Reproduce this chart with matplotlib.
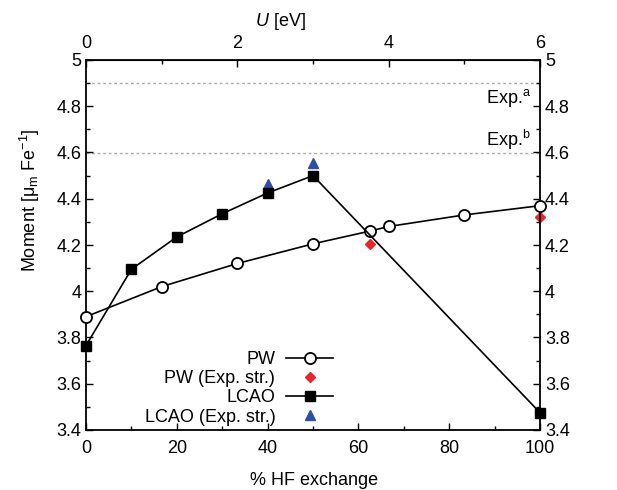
import matplotlib
matplotlib.use("Agg")
import matplotlib.pyplot as plt
from matplotlib.ticker import MultipleLocator, FixedLocator

plt.rcParams['font.family'] = ['Liberation Sans', 'DejaVu Sans']
plt.rcParams['mathtext.fontset'] = 'custom'
plt.rcParams['mathtext.rm'] = 'Liberation Sans'
plt.rcParams['mathtext.it'] = 'Liberation Sans:italic'

# PW data (x in U [eV])
pw_u = [0, 1, 2, 3, 3.75, 4, 5, 6]
pw_m = [3.89, 4.02, 4.12, 4.205, 4.26, 4.28, 4.33, 4.37]
# PW experimental structure (x in U [eV])
pwexp_u = [3.75, 6]
pwexp_m = [4.205, 4.32]
# LCAO data (x in % HF)
lcao_hf = [0, 10, 20, 30, 40, 50, 100]
lcao_m = [3.765, 4.095, 4.235, 4.335, 4.425, 4.50, 3.475]
# LCAO experimental structure
lcaoexp_hf = [40, 50]
lcaoexp_m = [4.462, 4.555]
# experimental references
exp_vals = [4.9, 4.6]
exp_labels = ['Exp.$^{\\mathrm{a}}$', 'Exp.$^{\\mathrm{b}}$']
u_ticks = [0, 2, 4, 6]
u_minor = [1, 3, 5]

U_MAX = 6.0

def u2hf(u):
    return [v * 100.0 / U_MAX for v in u]

fig = plt.figure(figsize=(6.17, 4.9), dpi=100)
ax = fig.add_axes([86/617, 1 - 430/490, (540-86)/617, (430-60)/490])

fs = 13
for y in exp_vals:
    ax.axhline(y, color='#aaaaaa', lw=1.0, ls=(0, (2, 2)), zorder=1)
ax.text(98, 4.835, exp_labels[0], ha='right', va='center', fontsize=fs)
ax.text(98, 4.655, exp_labels[1], ha='right', va='center', fontsize=fs)

ax.plot(u2hf(pw_u), pw_m, '-', color='black', lw=1.2, marker='o', ms=8,
        mfc='white', mec='black', mew=1.3, label='PW', zorder=3, clip_on=False)
ax.plot(u2hf(pwexp_u), pwexp_m, ls='none', marker='D', ms=5.5, color='#e8262b',
        label='PW (Exp. str.)', zorder=2, clip_on=False)
ax.plot(lcao_hf, lcao_m, '-', color='black', lw=1.2, marker='s', ms=7.5,
        mfc='black', mec='black', label='LCAO', zorder=3, clip_on=False)
ax.plot(lcaoexp_hf, lcaoexp_m, ls='none', marker='^', ms=7, color='#2f4fa2',
        label='LCAO (Exp. str.)', zorder=2, clip_on=False)

ax.set_xlim(0, 100)
ax.set_ylim(3.4, 5.0)
ax.xaxis.set_major_locator(MultipleLocator(20))
ax.xaxis.set_minor_locator(MultipleLocator(10))
ax.yaxis.set_major_locator(MultipleLocator(0.2))
ax.yaxis.set_minor_locator(MultipleLocator(0.1))
ax.yaxis.set_major_formatter(plt.FuncFormatter(lambda v, p: f"{v:.1f}".rstrip('0').rstrip('.')))
ax.tick_params(which='both', direction='in', labelsize=fs, right=True, labelright=True)
ax.tick_params(which='major', length=5, width=1)
ax.tick_params(which='minor', length=3, width=1)
ax.tick_params(axis='x', pad=7)
for s in ax.spines.values():
    s.set_linewidth(1.3)

sec = ax.secondary_xaxis('top', functions=(lambda h: h * U_MAX / 100.0, lambda u: u * 100.0 / U_MAX))
sec.xaxis.set_major_locator(FixedLocator(u_ticks))
sec.xaxis.set_minor_locator(FixedLocator(u_minor))
sec.tick_params(which='both', direction='in', labelsize=fs, pad=6)
sec.tick_params(which='major', length=5, width=1)
sec.tick_params(which='minor', length=3, width=1)

fig.text(280/617, 1 - 22/490, '$\\mathit{U}$ [eV]', ha='center', va='center', fontsize=fs)
fig.text(314/617, 1 - 480/490, '% HF exchange', ha='center', va='center', fontsize=fs)
fig.text(30/617, 1 - 200/490, 'Moment [$\\mathrm{\\mu_m}$ Fe$^{\\mathrm{-1}}$]', ha='center', va='center',
         rotation=90, fontsize=fs)

leg = ax.legend(loc='lower right', bbox_to_anchor=(0.572, -0.022), frameon=False,
                markerfirst=False, fontsize=fs, handlelength=2.6, labelspacing=0.12,
                borderpad=0.2, handletextpad=0.6)

fig.savefig('out.png', dpi=100)
